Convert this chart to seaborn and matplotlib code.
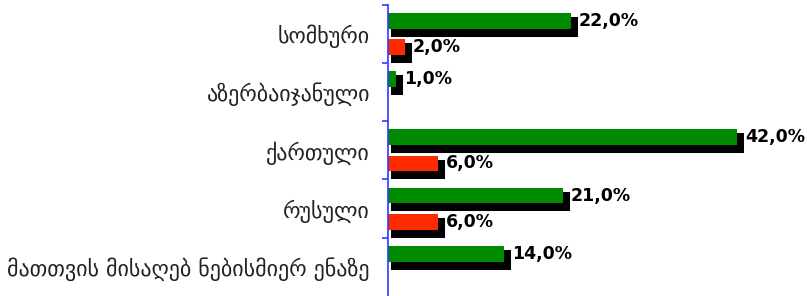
import pandas as pd
import numpy as np
import seaborn as sns
import matplotlib.pyplot as plt
import matplotlib.patheffects as pe

languages = ["სომხური", "აზერბაიჯანული", "ქართული", "რუსული",
             "მათთვის მისაღებ ნებისმიერ ენაზე"]
green_vals = [22.0, 1.0, 42.0, 21.0, 14.0]
red_vals = [2.0, np.nan, 6.0, 6.0, np.nan]
groups = ["ჯგუფი 1", "ჯგუფი 2"]

df = pd.DataFrame({
    "lang": languages * 2,
    "pct": green_vals + red_vals,
    "group": [groups[0]] * 5 + [groups[1]] * 5,
})

sns.set_style("white")
plt.rcParams["font.family"] = ["DejaVu Sans"]

fig = plt.figure(figsize=(8.07, 2.96), dpi=100)
ax = fig.add_axes([388 / 807, 0, 416 / 807, (296 - 4.7) / 296])

sns.barplot(data=df, y="lang", x="pct", hue="group", order=languages,
            hue_order=groups, palette=["#008a00", "#ff2a00"], orient="h",
            width=0.9, gap=0.4, legend=False, saturation=1, linewidth=0,
            edgecolor="none", ax=ax)

# black drop shadow behind every bar
for p in ax.patches:
    p.set_path_effects([
        pe.PathPatchEffect(offset=(3.6, -4.3), facecolor="black",
                           edgecolor="black", linewidth=2.9),
        pe.Normal(),
    ])

for c in ax.containers:
    labs = [f"{v:.1f}%".replace(".", ",") for v in c.datavalues]
    ax.bar_label(c, labels=labs, padding=5.8, fontsize=12.5,
                 fontweight="bold", family="DejaVu Sans", color="black")

ax.set_xlim(0, 50)
ax.set_ylim(4.5, -0.5)
ax.set_xlabel("")
ax.set_ylabel("")
ax.set_xticks([])

for s in ["top", "right", "bottom"]:
    ax.spines[s].set_visible(False)
ax.spines["left"].set_color("#2a3cff")
ax.spines["left"].set_linewidth(1.2)

ax.set_yticks(np.arange(-0.5, 4.5, 1), minor=True)
ax.tick_params(axis="y", which="major", length=0, pad=13, labelsize=15.8,
               labelcolor="#222222")
ax.tick_params(axis="y", which="minor", length=4.5, width=1.2,
               color="#2a3cff", left=True)

fig.savefig("out.png", dpi=100)
